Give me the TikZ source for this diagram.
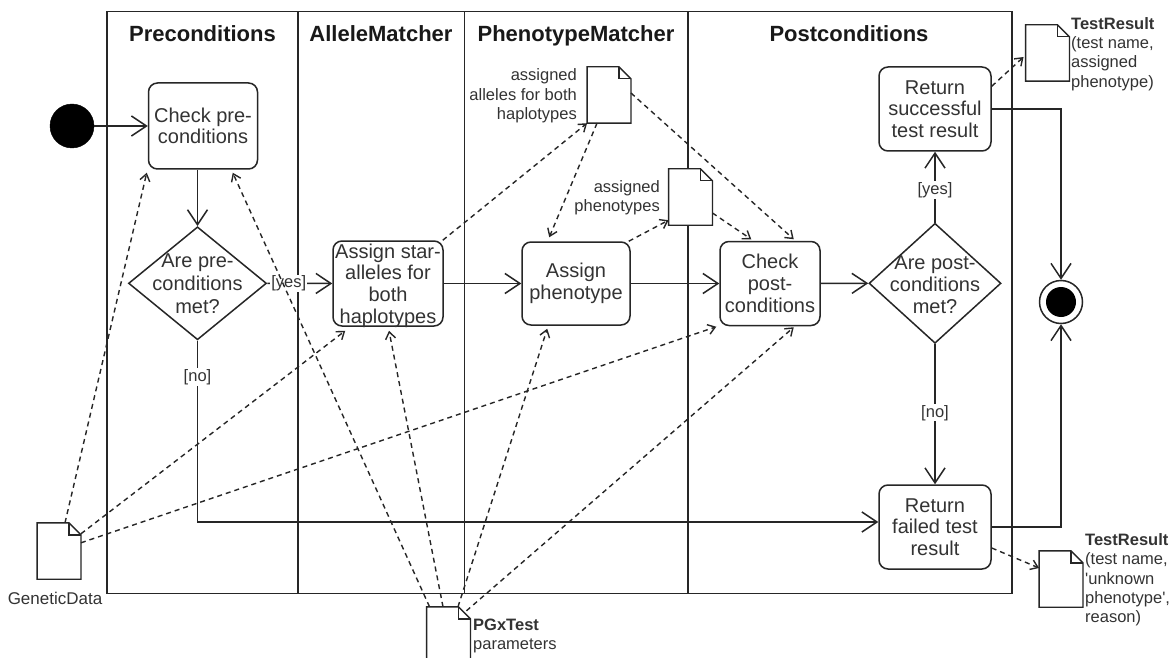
\documentclass[tikz,border=0pt]{standalone}
\usepackage{fontspec}
\setmainfont{Liberation Sans}
\usetikzlibrary{arrows.meta,shapes.geometric,calc}
\definecolor{ink}{HTML}{333333}
\definecolor{strokecol}{HTML}{262626}

% folded-corner sheet drawn around an empty node
\newcommand{\docsheet}[1]{%
  \draw[strokecol, line width=1.4, fill=white, line join=miter]
    (#1.south west) -- (#1.north west) -- ($(#1.north east)+(-12,0)$)
    -- ($(#1.north east)+(0,12)$) -- (#1.south east) -- cycle;
  \draw[strokecol, line width=1.4, line join=miter]
    ($(#1.north east)+(-12,0)$) -- ($(#1.north east)+(-12,12)$) -- ($(#1.north east)+(0,12)$);
}

\begin{document}
\begin{tikzpicture}[x=1pt,y=-1pt,
  lane/.style={draw=strokecol, line width=1.6},
  lanetitle/.style={font=\fontsize{22}{25}\selectfont\bfseries, text=black!90, anchor=base, inner sep=0},
  actbox/.style={draw=strokecol, line width=1.5, rounded corners=9, fill=white, inner sep=0},
  boxtext/.style={font=\fontsize{20}{21.7}\selectfont, text=ink, align=center, inner sep=0},
  decision/.style={diamond, draw=strokecol, line width=1.5, fill=white, inner sep=0},
  guard/.style={font=\fontsize{16.5}{19}\selectfont, text=ink, fill=white, inner sep=1},
  sheet/.style={minimum width=43.5, minimum height=56, inner sep=0},
  sheetlabel/.style={font=\fontsize{16.5}{19.3}\selectfont, text=ink, inner sep=0},
  flow/.style={draw=strokecol, line width=1.5, -{Straight Barb[length=15pt,width=20pt]}},
  dataflow/.style={draw=strokecol, line width=1.4, dash pattern=on 5pt off 4pt, -{Straight Barb[length=7pt,width=10pt]}},
]
\clip (0,0) rectangle (1176,658);
\fill[white] (0,0) rectangle (1176,658);

% swimlanes
\draw[lane] (107,11.7) rectangle (1012,593.3);
\draw[lane] (297.7,11.7) -- (297.7,593.3);
\draw[lane] (464.3,11.7) -- (464.3,593.3);
\draw[lane] (687.7,11.7) -- (687.7,593.3);
\node[lanetitle] (t1) at (202.5,42) {Preconditions};
\node[lanetitle] (t2) at (381,42) {AlleleMatcher};
\node[lanetitle] (t3) at (576,42) {PhenotypeMatcher};
\node[lanetitle] (t4) at (849,42) {Postconditions};

% initial and final nodes
\node[circle, fill=black, draw=black, minimum size=44, inner sep=0] (start) at (72,126) {};
\node[circle, draw=strokecol, line width=1.5, fill=white, minimum size=43, inner sep=0] (stop) at (1061,302) {};
\node[circle, fill=black, minimum size=30, inner sep=0] (stopdot) at (stop) {};

% actions
\node[actbox, minimum width=109, minimum height=86] (cp) at (203,126) {};
\node[boxtext] (cptx) at (cp) {Check pre-\\conditions};
\node[actbox, minimum width=110, minimum height=85] (as) at (388,283.5) {};
\node[boxtext] (astx) at ($(as)+(0,2)$) {Assign star-\\alleles for\\both\\haplotypes};
\node[actbox, minimum width=108, minimum height=83] (ap) at (576,283.5) {};
\node[boxtext] (aptx) at (ap) {Assign\\phenotype};
\node[actbox, minimum width=100, minimum height=84] (chk) at (770,283.5) {};
\node[boxtext] (chktx) at (chk) {Check\\post-\\conditions};
\node[actbox, minimum width=112, minimum height=84] (rs) at (935,109) {};
\node[boxtext] (rstx) at (rs) {Return\\successful\\test result};
\node[actbox, minimum width=112, minimum height=84] (rf) at (935,527) {};
\node[boxtext] (rftx) at (rf) {Return\\failed test\\result};

% decisions
\node[decision, minimum width=138, minimum height=113] (d1) at (197.5,283.3) {};
\node[boxtext, font=\fontsize{20}{23}\selectfont] (d1tx) at (d1) {Are pre-\\conditions\\met?};
\node[decision, minimum width=132, minimum height=120] (d2) at (935,283.3) {};
\node[boxtext, font=\fontsize{20}{22}\selectfont] (d2tx) at ($(d2)+(0,1)$) {Are post-\\conditions\\met?};

% data sheets
\node[sheet] (ad) at (609,95) {};
\docsheet{ad}
\node[sheetlabel, anchor=east, align=right] (adl) at (577,96) {assigned\\alleles for both\\haplotypes};
\node[sheet] (pd) at (690.5,197) {};
\docsheet{pd}
\node[sheetlabel, anchor=east, align=right] (pdl) at (660,198) {assigned\\phenotypes};
\node[sheet] (tr1) at (1047.5,53) {};
\docsheet{tr1}
\node[sheetlabel, anchor=west, align=left] (tr1l) at (1071,54) {\textbf{TestResult}\\(test name,\\assigned\\phenotype)};
\node[sheet] (tr2) at (1061,579) {};
\docsheet{tr2}
\node[sheetlabel, anchor=west, align=left] (tr2l) at (1085,580) {\textbf{TestResult}\\(test name,\\\textquotesingle unknown\\phenotype\textquotesingle,\\reason)};
\node[sheet] (gd) at (59,551) {};
\docsheet{gd}
\node[sheetlabel, font=\fontsize{17}{19}\selectfont] (gdl) at (55,598) {GeneticData};
\node[sheet] (pg) at (448.5,635) {};
\docsheet{pg}
\node[sheetlabel, anchor=west, align=left] (pgl) at (473,636) {\textbf{PGxTest}\\parameters};

% control flow
\draw[flow] (start) -- (cp.west);
\draw[flow] ($(cp.south)+(-5.5,0)$) -- (d1.north);
\draw[flow] (d1.east) -- node[guard, pos=0.33] (yes1) {[yes]} (as.west);
\draw[flow] (d1.south) |- node[guard, pos=0.1] (no1) {[no]} ($(rf.west)+(0,-5)$);
\draw[flow] (as.east) -- (ap.west);
\draw[flow] (ap.east) -- (chk.west);
\draw[flow] (chk.east) -- (d2.west);
\draw[flow] (d2.north) -- node[guard, pos=0.46] (yes2) {[yes]} (rs.south);
\draw[flow] (d2.south) -- node[guard, pos=0.49] (no2) {[no]} (rf.north);
\draw[flow] (rs.east) -| (stop.north);
\draw[flow] (rf.east) -| (stop.south);

% object flow
\draw[dataflow] ($(gd.north)+(6,0)$) -- ($(cp.south west)+(-1,3)$);
\draw[dataflow] ($(gd.north east)+(0,11)$) -- ($(as.south west)+(13,4)$);
\draw[dataflow] ($(gd.north east)+(0,20)$) -- ($(chk.south west)+(-3,0.5)$);
\draw[dataflow] ($(pg.north west)+(3,0)$) -- ($(cp.south east)+(-25.5,3)$);
\draw[dataflow] ($(pg.north)+(-5.5,0)$) -- ($(as.south)+(1,4)$);
\draw[dataflow] ($(pg.north)+(9.5,0)$) -- ($(ap.south west)+(26,3)$);
\draw[dataflow] ($(pg.north east)+(-4,4)$) -- ($(chk.south east)+(-27,1)$);
\draw[dataflow] ($(as.north east)+(-1,0)$) -- (ad.south west);
\draw[dataflow] ($(ad.south)+(-12,0)$) -- ($(ap.north west)+(28,-4)$);
\draw[dataflow] ($(ad.east)+(0,-2)$) -- ($(chk.north east)+(-27,-1.5)$);
\draw[dataflow] ($(ap.north east)+(-2,0)$) -- ($(pd.south west)+(0,-5)$);
\draw[dataflow] ($(pd.east)+(0,16)$) -- ($(chk.north west)+(32,-1.5)$);
\draw[dataflow] ($(rs.north east)+(0,20)$) -- ($(tr1.west)+(-2,4)$);
\draw[dataflow] ($(rf.east)+(0,21)$) -- ($(tr2.west)+(0,-11)$);
\end{tikzpicture}
\end{document}
